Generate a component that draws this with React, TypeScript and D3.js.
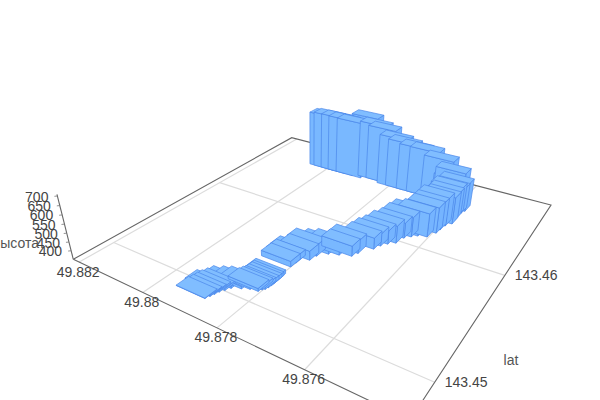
import React from "react";
import * as d3 from "d3";

const lonValues = [49.8802,49.88006,49.87981,49.87957,49.8793,49.87912,49.87864,49.87838,49.87797,49.87771,49.87738,49.87708,49.87667,49.87632,49.87635,49.87614,49.87618,49.8762,49.87618,49.87617,49.87627,49.8763,49.87632,49.87643,49.87663,49.87674,49.87686,49.87692,49.87706,49.87716,49.87723,49.87744,49.8775,49.87776,49.87798,49.87816,49.8782,49.8784,49.87839,49.8784,49.87835,49.87834,49.87834,49.87835,49.87837,49.87841,49.87845,49.87863,49.87879,49.87898,49.87904,49.8791,49.87913,49.8792,49.87916,49.8792];
const latValues = [143.46699,143.46699,143.46699,143.46699,143.46699,143.46832,143.46729,143.46729,143.46699,143.46699,143.46699,143.46699,143.46699,143.46699,143.46699,143.46642,143.46603,143.46557,143.46495,143.46433,143.46383,143.46318,143.46267,143.46191,143.46169,143.46136,143.46098,143.46016,143.45978,143.45934,143.45879,143.45784,143.45736,143.45705,143.45678,143.4562,143.45561,143.45535,143.45491,143.45441,143.45271,143.45251,143.45232,143.45207,143.45184,143.45171,143.45148,143.45138,143.45115,143.45087,143.45053,143.45024,143.44994,143.4501,143.44967,143.44938];
const heightValues = [700,706,707,705,703,706,706,692,663,648,636,634,603,552,508,518,500,515,510,509,514,505,501,488,482,465,440,451,428,422,415,422,409,405,400,413,402,384,384,382,371,370,370,369,368,367,366,365,364,362,360,358,356,357,354,352];
const lonTicks = [49.882, 49.88, 49.878, 49.876];
const latTicks = [143.45, 143.46];
const heightTicks = [400, 450, 500, 550, 600, 650, 700];

const u = d3.scaleLinear().domain([49.8822, 49.874]).range([0, 1]);
const v = d3.scaleLinear().domain([143.4474, 143.4701]).range([0, 1]);
const t = d3.scaleLinear().domain([350, 709]).range([0, 1]);

const project = (lon: number, lat: number, z = 350): [number, number] => {
  const a = u(lon), b = v(lat), c = t(z);
  const w = -0.2914 * a + 0.4569 * b + 1 - 0.0642 * c;
  return [
    (217.2 * a + 351.7 * b + 73.3 - 19.97 * c) / w,
    (38.3 * a - 58.7 * b + 259.3 - 77.5 * c) / w,
  ];
};
const depth = (lon: number, lat: number) => -0.2914 * u(lon) + 0.4569 * v(lat);

const path = d3.line();
const LON_HALF = 0.0004;
const LAT_HALF = 0.0005;
const lonA = 49.8822, lonB = 49.874, latA = 143.4474, latB = 143.4701, zA = 350, zB = 709;

const bars = lonValues
  .map((lon, i) => ({ lon, lat: latValues[i], z: heightValues[i], i }))
  .sort((p, q) => depth(q.lon, q.lat) - depth(p.lon, p.lat) || p.i - q.i);

const textStyle = { fontFamily: '"Liberation Sans", Arial, sans-serif', fontSize: 14, fill: "#444" };

export default function App() {
  return (
    <svg width={600} height={400} style={{ position: "absolute", left: 0, top: 0, background: "#fff" }}>
      {lonTicks.map((l) => (
        <path key={l} d={path([project(l, latA), project(l, latB)])!} stroke="#dcdcdc" strokeWidth={1.2} fill="none" />
      ))}
      {latTicks.map((l) => (
        <path key={l} d={path([project(lonTicks[0], l), project(lonB, l)])!} stroke="#dcdcdc" strokeWidth={1.2} fill="none" />
      ))}
      <path
        d={path([project(lonA, latA), project(lonA, latB), project(lonB, latB), project(lonB, latA), project(lonA, latA)])!}
        stroke="#666"
        strokeWidth={1.1}
        fill="none"
      />
      <path d={path([project(lonA, latA), project(lonA, latA, zB)])!} stroke="#666" strokeWidth={1.1} fill="none" />
      {heightTicks.map((h) => {
        const [x, y] = project(lonA, latA, h);
        return <path key={h} d={path([[x, y], [x - 3, y + 0.3]])!} stroke="#777" strokeWidth={0.8} fill="none" />;
      })}
      {bars.map((b) => {
        const lo0 = b.lon + LON_HALF, lo1 = b.lon - LON_HALF;
        const la0 = b.lat - LAT_HALF, la1 = b.lat + LAT_HALF;
        const top = path([project(lo0, la0, b.z), project(lo1, la0, b.z), project(lo1, la1, b.z), project(lo0, la1, b.z)])! + "Z";
        const front = path([project(lo0, la0, zA), project(lo1, la0, zA), project(lo1, la0, b.z), project(lo0, la0, b.z)])! + "Z";
        const side = path([project(lo1, la0, zA), project(lo1, la1, zA), project(lo1, la1, b.z), project(lo1, la0, b.z)])! + "Z";
        return (
          <g key={b.i} stroke="#4a86ea" strokeWidth={0.7} strokeLinejoin="round">
            <path d={side} fill="#75b4ff" />
            <path d={front} fill="#79b8ff" />
            <path d={top} fill="#80bdff" />
          </g>
        );
      })}
      {lonTicks.map((l) => {
        const [x, y] = project(l, latA);
        return (
          <text key={l} x={x - 1} y={y + 9.5} textAnchor="middle" dominantBaseline="central" style={textStyle}>
            {String(l)}
          </text>
        );
      })}
      {latTicks.map((l) => {
        const [x, y] = project(lonB, l);
        return (
          <text key={l} x={x + 10} y={y} dominantBaseline="central" style={textStyle}>
            {String(l)}
          </text>
        );
      })}
      {heightTicks.map((h) => {
        const [x, y] = project(lonA, latA, h);
        return (
          <text key={h} x={x - 9} y={y + 0.5} textAnchor="end" dominantBaseline="central" style={textStyle}>
            {h}
          </text>
        );
      })}
      <text x={511} y={360} textAnchor="middle" dominantBaseline="central" style={{ ...textStyle, fill: "#555" }}>
        lat
      </text>
      <text x={39} y={243} textAnchor="end" dominantBaseline="central" style={{ ...textStyle, fill: "#555" }}>
        высота
      </text>
    </svg>
  );
}
